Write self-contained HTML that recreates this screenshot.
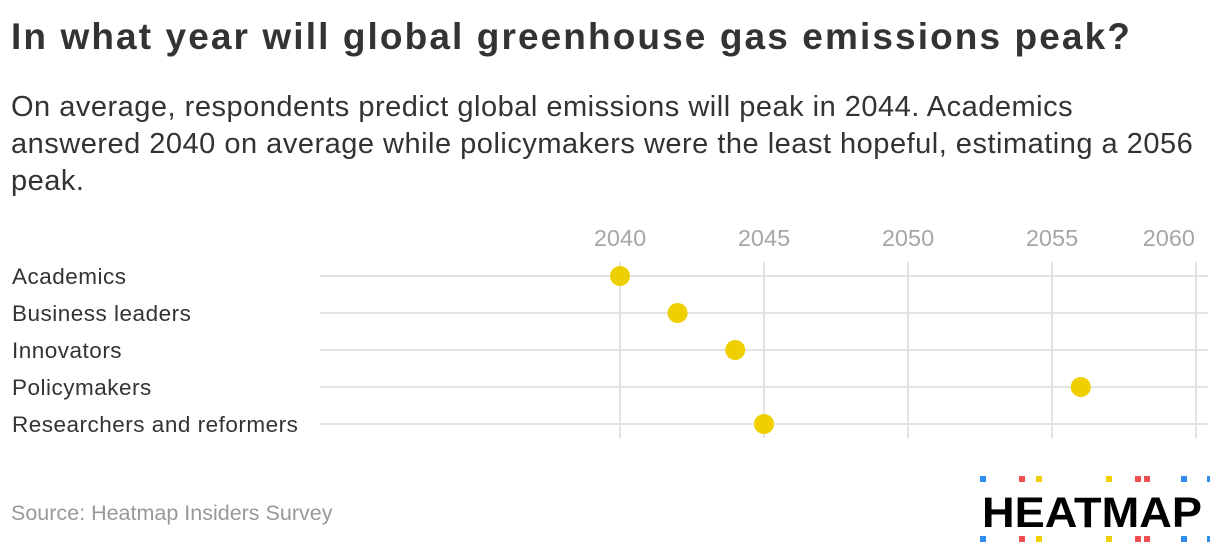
<!DOCTYPE html>
<html><head><meta charset="utf-8"><style>
body{margin:0;width:1220px;height:560px;background:#fff;font-family:"Liberation Sans",sans-serif;overflow:hidden;position:relative}
.t{position:absolute;left:11px;top:16px;font-size:37px;font-weight:bold;color:#333;margin:0;letter-spacing:2.1px;white-space:nowrap}
.s{position:absolute;left:11px;top:89px;font-size:29px;line-height:37px;color:#333;margin:0;white-space:nowrap;letter-spacing:0.5px}
.src{position:absolute;left:11px;top:501px;font-size:21.5px;color:#999}
</style></head><body>
<h1 class="t">In what year will global greenhouse gas emissions peak?</h1>
<p class="s">On average, respondents predict global emissions will peak in 2044. Academics<br>answered 2040 on average while policymakers were the least hopeful, estimating a 2056<br>peak.</p>
<svg id="chart" width="1220" height="560" style="position:absolute;left:0;top:0"></svg>
<div class="src">Source: Heatmap Insiders Survey</div>
<svg width="240" height="80" style="position:absolute;left:970px;top:470px">
<g id="sq"></g>
<text x="12" y="57" font-family="Liberation Sans, sans-serif" font-weight="bold" font-size="43" fill="#000" textLength="220" lengthAdjust="spacingAndGlyphs">HEATMAP</text>
</svg>
<script>
const categories=["Academics","Business leaders","Innovators","Policymakers","Researchers and reformers"];
const values=[2040,2042,2044,2056,2045];
const ticks=[2040,2045,2050,2055,2060];
const NS="http://www.w3.org/2000/svg";
const svg=document.getElementById("chart");
const x=v=>620+(v-2040)*28.8;
const rowY=i=>276+i*37;
function mk(t,a){const e=document.createElementNS(NS,t);for(const k in a)e.setAttribute(k,a[k]);svg.appendChild(e);return e;}
ticks.forEach((t,i)=>{
 const l=mk("line",{x1:x(t),x2:x(t),y1:262,y2:438,stroke:"#e3e3e3","stroke-width":2});
 
 
 const last=i===ticks.length-1;
 const tx=mk("text",{x:last?x(t)-1:x(t),y:246,"text-anchor":last?"end":"middle","font-size":23.5,fill:"#a6a6a6","font-family":"Liberation Sans, sans-serif"});
 tx.textContent=t;
 
 
});
categories.forEach((c,i)=>{
 const y=rowY(i);
 const l=mk("line",{x1:320,x2:1208,y1:y,y2:y,stroke:"#e3e3e3","stroke-width":2});
 
 
 const tx=mk("text",{x:12,y:y+8,"font-size":22.5,"letter-spacing":0.5,fill:"#333","font-family":"Liberation Sans, sans-serif"});
 tx.textContent=c;
 
 
 const d=mk("circle",{cx:x(values[i]),cy:y,r:10,fill:"#efcf00"});
 
 
});
const sq=document.getElementById("sq");
const sqx=[10,49,66,136,165,174,211,237];
const sqc=["#2f8cf0","#f25050","#efcf00","#efcf00","#f25050","#f25050","#2f8cf0","#2f8cf0"];
sqx.forEach((xx,i)=>{[6,66].forEach(yy=>{const r=document.createElementNS(NS,"rect");
r.setAttribute("x",xx);r.setAttribute("y",yy);r.setAttribute("width",6);r.setAttribute("height",6);r.setAttribute("fill",sqc[i]);


sq.appendChild(r);});});
</script>
</body></html>
